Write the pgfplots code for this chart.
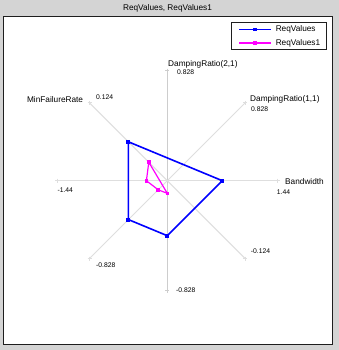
\documentclass[border=0pt]{standalone}
\usepackage{pgfplots}
\pgfplotsset{compat=1.18}
\usepackage{pgfplotstable}
\usepackage{fontspec}
\setmainfont{Liberation Sans}
\definecolor{winbg}{RGB}{212,212,212}
\definecolor{spoke}{RGB}{222,222,222}
\definecolor{spokev}{RGB}{205,205,205}
\definecolor{frame}{RGB}{30,30,30}
\definecolor{mag}{RGB}{255,0,255}
\definecolor{blu}{RGB}{0,0,255}
\newcommand{\lab}{\fontsize{8.3}{10}\selectfont}
\newcommand{\num}{\fontsize{6.8}{8}\selectfont}
% normalized radius (fraction of each axis range) at spoke angle
\pgfplotstableread{
a r
0   0.50
270 0.50
225 0.50
135 0.50
0   0.50
}\reqA
\pgfplotstableread{
a r
135 0.238
180 0.190
225 0.117
270 0.115
135 0.238
}\reqB
\begin{document}
\begin{tikzpicture}
\fill[winbg] (0,0) rectangle (339bp,350bp);
\fill[white,draw=frame,line width=1bp] (3.5bp,5bp) rectangle (332.5bp,333bp);
\begin{axis}[hide axis, scale only axis, width=339bp, height=350bp,
  xmin=0, xmax=339, ymin=0, ymax=350, y dir=reverse, clip=false,
  legend style={at={(axis description cs:0.9646,0.9363)}, anchor=north east,
    draw=frame, line width=1bp, font=\lab, nodes={inner sep=0bp},
    row sep=6bp, column sep=4.3bp,
    inner xsep=6.3bp, inner ysep=3bp, cells={anchor=west, text height=6bp, text depth=2bp}},
  legend image code/.code={\draw[mark repeat=2,mark phase=2,#1,line width=1.7bp,mark size=1.1bp] plot coordinates {(0bp,0bp) (15.8bp,0bp) (31.6bp,0bp)};}
]
% spokes
\addplot[spoke, line width=1.5bp, mark=+, mark size=2bp, forget plot] coordinates {(57.3,180.7) (277.7,180.7)};
\addplot[spokev, line width=1bp, mark=+, mark size=2bp, forget plot] coordinates {(167.3,70.7) (167.3,290.7)};
\addplot[spoke, line width=1bp, mark=+, mark size=2bp, forget plot] coordinates {(89.5,102.9) (245.1,258.5)};
\addplot[spoke, line width=1bp, mark=+, mark size=2bp, forget plot] coordinates {(89.5,258.5) (245.1,102.9)};
% data
\addplot[blu, line width=1.6bp, mark=square*, mark size=1.2bp, mark options={solid}]
  table[x expr={167.3+110*\thisrow{r}*cos(\thisrow{a})}, y expr={180.7-110*\thisrow{r}*sin(\thisrow{a})}] {\reqA};
\addlegendentry{ReqValues}
\addplot[mag, line width=1.2bp, mark=square*, mark size=1.2bp, mark options={solid}]
  table[x expr={167.3+110*\thisrow{r}*cos(\thisrow{a})}, y expr={180.7-110*\thisrow{r}*sin(\thisrow{a})}] {\reqB};
\addlegendentry{ReqValues1}
% labels
\node[anchor=base, inner sep=0, font=\lab] at (axis cs:167.5,10.7) {ReqValues, ReqValues1};
\node[anchor=base west, inner sep=0, font=\lab] at (axis cs:168,66.3) {DampingRatio(2,1)};
\node[anchor=base west, inner sep=0, font=\num] at (axis cs:177,74) {0.828};
\node[anchor=base east, inner sep=0, font=\lab] at (axis cs:83.3,102) {MinFailureRate};
\node[anchor=base west, inner sep=0, font=\num] at (axis cs:96,99.3) {0.124};
\node[anchor=base west, inner sep=0, font=\lab] at (axis cs:250,101) {DampingRatio(1,1)};
\node[anchor=base west, inner sep=0, font=\num] at (axis cs:251,111.7) {0.828};
\node[anchor=base west, inner sep=0, font=\lab] at (axis cs:285,184) {Bandwidth};
\node[anchor=base west, inner sep=0, font=\num] at (axis cs:276.7,194.3) {1.44};
\node[anchor=base west, inner sep=0, font=\num] at (axis cs:57.3,192) {-1.44};
\node[anchor=base west, inner sep=0, font=\num] at (axis cs:250.7,253.3) {-0.124};
\node[anchor=base west, inner sep=0, font=\num] at (axis cs:96,267) {-0.828};
\node[anchor=base west, inner sep=0, font=\num] at (axis cs:176,292.5) {-0.828};
\end{axis}
\end{tikzpicture}
\end{document}
